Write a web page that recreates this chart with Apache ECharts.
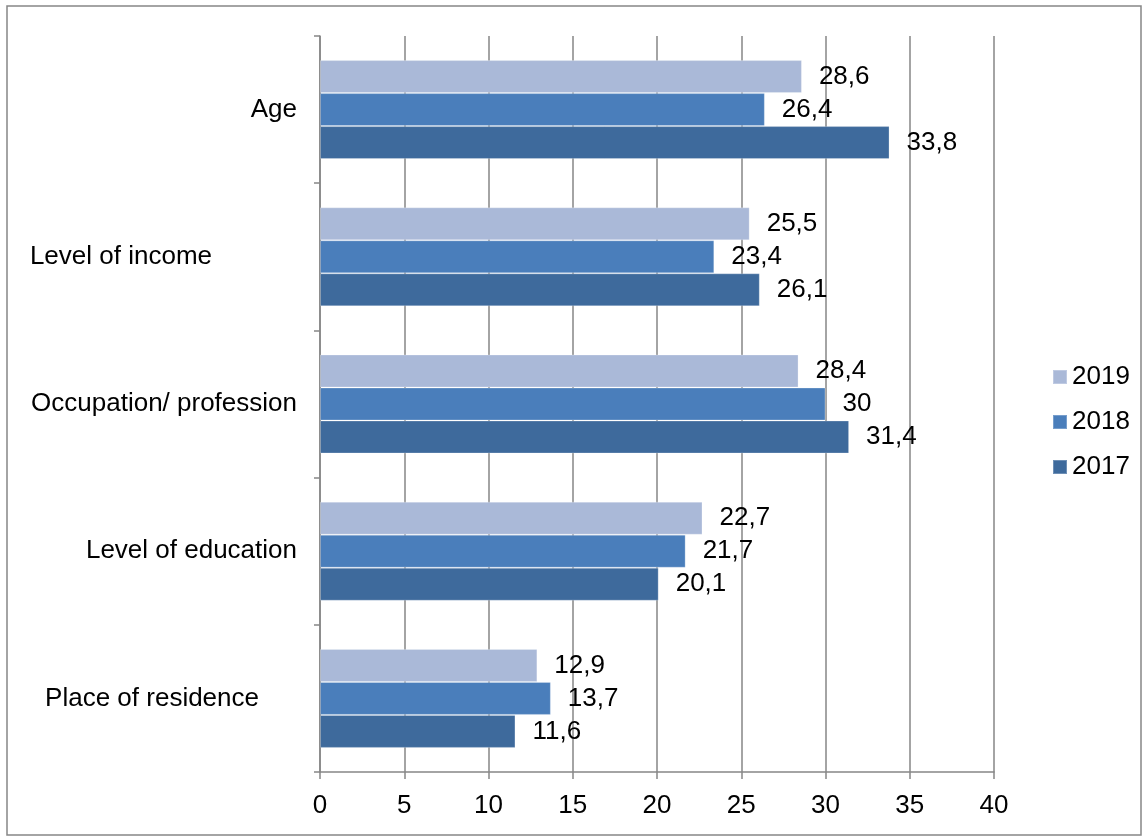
<!DOCTYPE html>
<html>
<head>
<meta charset="utf-8">
<script src="https://cdn.jsdelivr.net/npm/echarts@6/dist/echarts.min.js"></script>
<style>
  html, body { margin: 0; padding: 0; background: #fff; }
  #chart { width: 1148px; height: 838px; }
</style>
</head>
<body>
<div id="chart"></div>
<script>
// Factors, top to bottom
const categories = ['Age', 'Level of income', 'Occupation/ profession', 'Level of education', 'Place of residence'];
const years = ['2019', '2018', '2017'];
const values2019 = [28.6, 25.5, 28.4, 22.7, 12.9];
const values2018 = [26.4, 23.4, 30, 21.7, 13.7];
const values2017 = [33.8, 26.1, 31.4, 20.1, 11.6];
const xTicks = [0, 5, 10, 15, 20, 25, 30, 35, 40];

const colors = { '2019': '#aab9d8', '2018': '#4a7ebb', '2017': '#3e6a9c' };
const seriesValues = { '2019': values2019, '2018': values2018, '2017': values2017 };

// extra right padding for a few category labels
const labelShift = { 'Level of income': 85, 'Place of residence': 38 };

const font = '"Liberation Sans", Arial, sans-serif';
const axisGray = '#868686';

const chart = echarts.init(document.getElementById('chart'), null, { renderer: 'canvas' });

const series = years.map(y => ({
  name: y,
  type: 'bar',
  data: seriesValues[y],
  barWidth: 33,
  barGap: '0%',
  itemStyle: { color: colors[y], borderColor: 'rgba(255,255,255,0.25)', borderWidth: 1 },
  label: {
    show: true,
    position: 'right',
    distance: 17,
    color: '#000',
    fontSize: 26,
    fontFamily: font,
    formatter: p => String(p.value).replace('.', ',')
  }
}));

chart.setOption({
  animation: false,
  backgroundColor: '#fff',
  textStyle: { fontFamily: font },
  graphic: [{
    type: 'rect',
    shape: { x: 7, y: 6, width: 1134, height: 829 },
    style: { fill: 'none', stroke: axisGray, lineWidth: 1.5 },
    silent: true
  }],
  grid: { left: 320, right: 154, top: 36, bottom: 66, containLabel: false },
  legend: {
    data: years,
    orient: 'vertical',
    left: 1052,
    top: 364,
    padding: 0,
    itemWidth: 14,
    itemHeight: 14,
    itemGap: 19,
    icon: 'rect',
    textStyle: { fontSize: 26, color: '#000', fontFamily: font, lineHeight: 26 }
  },
  xAxis: {
    type: 'value',
    min: xTicks[0],
    max: xTicks[xTicks.length - 1],
    interval: 5,
    axisLine: { show: true, lineStyle: { color: axisGray, width: 1.5 } },
    axisTick: { show: true, length: 7, lineStyle: { color: axisGray, width: 1.5 } },
    splitLine: { show: true, lineStyle: { color: axisGray, width: 1.5 } },
    axisLabel: { fontSize: 26, color: '#000', margin: 21, fontFamily: font }
  },
  yAxis: {
    type: 'category',
    inverse: true,
    data: categories.map(c => ({
      value: c,
      textStyle: { padding: [0, labelShift[c] || 0, 0, 0] }
    })),
    axisLine: { show: true, lineStyle: { color: axisGray, width: 1.5 } },
    axisTick: { show: true, length: 6, lineStyle: { color: axisGray, width: 1.5 } },
    axisLabel: { fontSize: 26, color: '#000', margin: 23, fontFamily: font }
  },
  series: series
});
</script>
</body>
</html>
